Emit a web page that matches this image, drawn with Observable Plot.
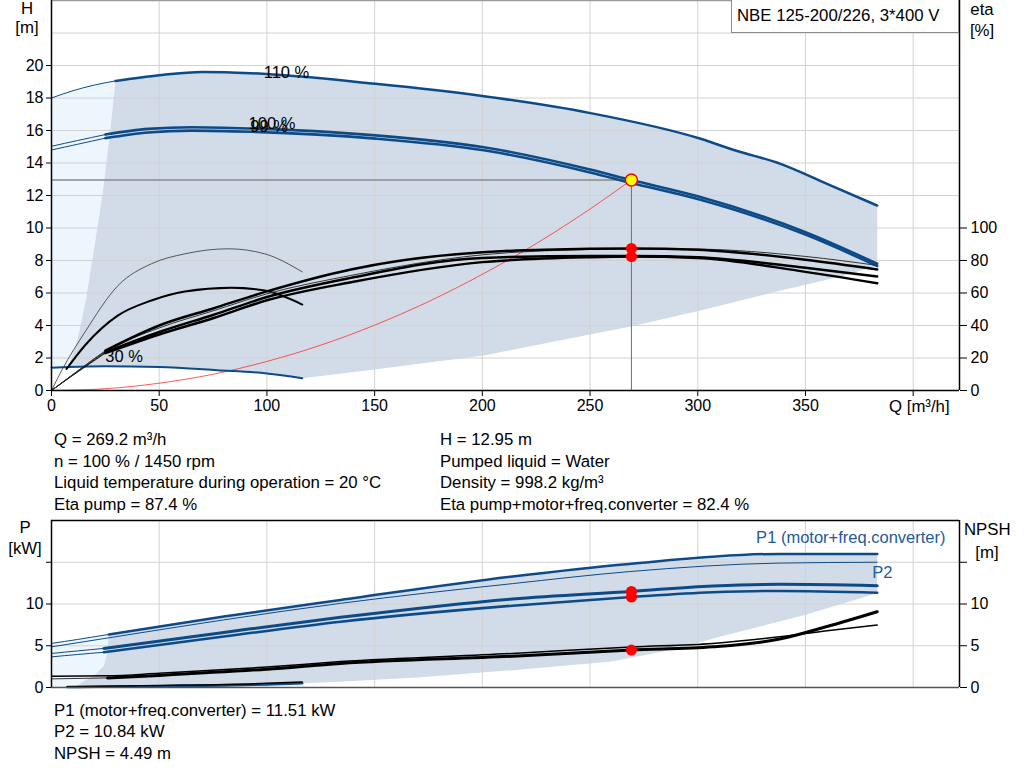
<!DOCTYPE html>
<html><head><meta charset="utf-8">
<script src="https://cdn.jsdelivr.net/npm/d3@7"></script>
<script src="https://cdn.jsdelivr.net/npm/@observablehq/plot@0.6"></script>
<style>
body{margin:0;background:#fff;font-family:"Liberation Sans",Arial,sans-serif;}
#wrap{position:relative;width:1024px;height:781px;overflow:hidden;background:#fff;}
#wrap svg{position:absolute;left:0;}
.t{position:absolute;font-size:16.8px;color:#000;white-space:nowrap;line-height:21.5px;}
.c{text-align:center;line-height:18px;}
</style></head><body><div id="wrap"></div>
<script>
// ---------- tick values ----------
const qTicks = [0, 50, 100, 150, 200, 250, 300, 350, 400];
const hTicks = [0, 2, 4, 6, 8, 10, 12, 14, 16, 18, 20];
const hGrid = [2, 4, 6, 8, 10, 12, 14, 16, 18, 20, 22];
const etaTicks = [0, 20, 40, 60, 80, 100];
const pTicks = [0, 5, 10, 15];

// ---------- top chart: head curves [Q, H] ----------
const h110 = [[0,18.0],[10,18.45],[20,18.8],[29.7,19.05],[50,19.4],[70,19.6],[92.4,19.53],[150.4,18.87],[200.7,18.11],[250.2,17.07],[301.3,15.49],[317.5,14.77],[338.4,13.95],[360,12.72],[383.3,11.38]];
const h100 = [[0,15.03],[12,15.38],[25,15.75],[45,16.1],[65,16.2],[92.4,16.12],[150.4,15.7],[200.7,14.97],[250,13.6],[269.2,12.95],[300,11.95],[350,9.74],[383.3,7.8]];
const h99  = [[0,14.8],[12,15.15],[25,15.53],[45,15.88],[65,15.99],[92.4,15.92],[150.4,15.5],[200.7,14.78],[250,13.42],[269.2,12.77],[300,11.78],[350,9.59],[383.3,7.66]];
const h30  = [[0,1.4],[8,1.45],[25,1.5],[50,1.45],[77,1.25],[100,1.05],[116.4,0.76]];
const system = [[0,0],[25,0.11],[50,0.45],[75,1.0],[100,1.79],[125,2.79],[150,4.02],[175,5.47],[200,7.15],[225,9.04],[250,11.17],[269.2,12.95]];
// operating range boundaries
const leftEdgeTop = [[7.7,1.45],[12,3.1],[16,5.6],[20.1,9.0],[24,12.4],[27,15.7],[29.7,19.05]];
const lowerEdgeTop = [[116.4,0.76],[150,1.3],[200.7,2.15],[231.7,2.97],[268.8,3.94],[301.3,4.92],[340,6.2],[366,7.0],[383.3,7.7]];

// ---------- top chart: efficiency curves [Q, eta %] ----------
const etaA = [[0,0],[10,10],[25,24.5],[50,40],[75,50.5],[100,61],[139,74.5],[200,85.1],[250,87.2],[269.2,87.4],[300,86.6],[350,80.5],[383.3,74.5]];
const etaB = [[0,0],[10,9.8],[25,24],[50,38.5],[75,49],[100,59.5],[139,70.8],[200,83.5],[250,86.8],[269.2,87.2],[300,87],[350,82.5],[383.3,77]];
const etaC = [[0,0],[10,9.6],[25,23.5],[50,36],[75,46.5],[100,57.5],[139,69.3],[200,81.6],[250,82.8],[269.2,82.8],[300,82],[350,75.5],[383.3,70.2]];
const etaD = [[0,0],[10,9.4],[25,23],[50,34.5],[75,44.5],[100,55.5],[139,66.6],[200,79],[250,82],[269.2,82.4],[300,81.5],[350,73],[383.3,66]];
const eta30p = [[0,0],[5,13],[15.5,35.9],[30.9,64.6],[46.4,78],[61.9,84.1],[82,87.2],[99,84.1],[116.4,73]];
const eta30t = [[7,13.3],[15.5,27.7],[30.9,46.2],[46.4,55.4],[61.9,60.9],[83.5,63.2],[99,61.5],[116.4,52.9]];

// ---------- operating point ----------
const opQ = 269.2, opH = 12.95;
const etaDots = [87.4, 82.4];
const powerDots = [11.51, 10.84];
const npshDot = 4.49;

// ---------- bottom chart: power [Q, kW] and NPSH [Q, m] ----------
const p1_110 = [[0,5.28],[12,5.75],[26.6,6.36],[80,8.5],[134.2,10.48],[214,13.3],[268.2,14.8],[337.8,16.0],[383.3,16.0]];
const p2_110 = [[0,4.87],[26.6,5.95],[80,8.1],[134.2,10.08],[214,12.44],[268.2,13.88],[337.8,14.9],[383.3,15.0]];
const p1_100 = [[0,4.08],[12,4.38],[24.3,4.68],[80,6.6],[134.2,8.4],[214,10.6],[269.2,11.51],[307,12.16],[337.8,12.36],[383.3,12.2]];
const p2_100 = [[0,3.67],[12,3.95],[24.3,4.22],[80,6.1],[134.2,7.88],[214,9.8],[269.2,10.84],[307,11.4],[337.8,11.56],[383.3,11.36]];
const p30 = [[7.3,0.05],[12,0.07],[50,0.15],[80,0.25],[100,0.36],[116.4,0.5]];
const npsh100 = [[0,1.03],[26,1.15],[50,1.45],[100,2.2],[134.2,2.88],[214,3.75],[269.2,4.49],[307,4.87],[338,5.8],[360,7.3],[383.3,9.08]];
const npsh110 = [[0,1.36],[26,1.4],[50,1.7],[100,2.45],[134.2,3.1],[214,4.08],[269.2,4.85],[307,5.28],[338,6.07],[360,6.8],[383.3,7.48]];
const npsh30 = [[7.3,0.1],[50,0.25],[100,0.5],[116.4,0.65]];
const leftEdgeBot = [[11,0.05],[13.5,0.48],[16,0.9],[19.6,1.4],[22,2.0],[24.3,2.6],[25.8,4.0],[26.6,6.36]];
const lowerEdgeBot = [[116.4,0.5],[131,0.67],[170,1.2],[214,2.08],[260,3.1],[290,4.6],[310,6.07],[350,8.7],[383.3,11.28]];

// ---------- labels ----------
const curveLabels = [
  {q: 98.5, v: 19.55, label: "110 %"},
  {q: 91.5, v: 16.4, label: "100 %"},
  {q: 92.3, v: 16.22, label: "99 %"},
  {q: 25, v: 2.05, label: "30 %"}
];
const p1Label = [{q: 415, v: 17.9, label: "P1 (motor+freq.converter)"}];
const p2Label = [{q: 381, v: 13.8, label: "P2"}];

// ---------- helpers ----------
const P = a => a.map(([q, v]) => ({q, v}));
const upTo = (a, q0) => a.filter(d => d[0] <= q0);
const from = (a, q0) => a.filter(d => d[0] >= q0);
const rev = a => a.slice().reverse();

const BLUE = "#0d4b88";
const font = '"Liberation Sans", Arial, sans-serif';
const QMAX = 421.5;
const TICKFS = 16;

// polygons
const darkTop = P([...leftEdgeTop, ...from(h110, 29.7).slice(1), ...rev(lowerEdgeTop), ...rev(upTo(h30, 116.4)).filter(d => d[0] >= 7.7)]);
const lightTop = P([[0, h30[0][1]], ...upTo(h110, 29.7), ...rev(leftEdgeTop), ...rev(upTo(h30, 7.7))]);
const darkBot = P([...leftEdgeBot, ...from(p1_110, 26.6).slice(1), ...rev(lowerEdgeBot), ...rev(p30).filter(d => d[0] >= 11)]);
const lightBot = P([[0, 0], ...upTo(p1_110, 26.6), ...rev(leftEdgeBot), [0, 0]]);

const eta = a => P(a.map(([q, e]) => [q, e / 10]));
const op = {q: opQ, h: opH};

const line = (a, o) => Plot.line(a, {x: "q", y: "v", curve: "monotone-x", ...o});

const topPlot = Plot.plot({
  width: 1024, height: 420,
  marginLeft: 51, marginRight: 65, marginTop: 0, marginBottom: 30,
  style: {fontFamily: font, fontSize: "16px", color: "#000", background: "transparent", overflow: "visible"},
  x: {domain: [0, QMAX]},
  y: {domain: [0, 24]},
  marks: [
    Plot.line(lightTop, {x: "q", y: "v", fill: "#eef6fd", stroke: "none"}),
    Plot.line(darkTop, {x: "q", y: "v", fill: "#d1dce8", stroke: "none"}),
    Plot.gridX({ticks: qTicks.slice(1), stroke: "#d2d2d2", strokeOpacity: 1}),
    Plot.gridY({ticks: hGrid, stroke: "#d2d2d2", strokeOpacity: 1}),
    Plot.ruleY([op], {y: "h", x1: 0, x2: "q", stroke: "#8a8a8a", strokeWidth: 1.5}),
    Plot.ruleX([op], {x: "q", y1: 0, y2: "h", stroke: "#6e6e6e", strokeWidth: 1}),
    line(P(system), {stroke: "#ff3030", strokeWidth: 0.8}),
    // head curves
    line(P(upTo(h110, 29.7)), {stroke: BLUE, strokeWidth: 1}),
    line(P(from(h110, 29.7)), {stroke: BLUE, strokeWidth: 2.5}),
    line(P(upTo(h100, 25)), {stroke: BLUE, strokeWidth: 1}),
    line(P(upTo(h99, 25)), {stroke: BLUE, strokeWidth: 1}),
    line(P(from(h100, 25)), {stroke: BLUE, strokeWidth: 2.6}),
    line(P(from(h99, 25)), {stroke: BLUE, strokeWidth: 2.6}),
    line(P(h30), {stroke: BLUE, strokeWidth: 2}),
    // efficiency curves
    line(eta(eta30p), {stroke: "#333", strokeWidth: 0.8}),
    line(eta(eta30t), {stroke: "#000", strokeWidth: 2}),
    line(eta(upTo(etaA, 25)), {stroke: "#000", strokeWidth: 0.8}),
    line(eta(upTo(etaC, 25)), {stroke: "#000", strokeWidth: 0.8}),
    line(eta(upTo(etaD, 25)), {stroke: "#000", strokeWidth: 0.8}),
    line(eta(etaB), {stroke: "#333", strokeWidth: 1}),
    line(eta(from(etaA, 25)), {stroke: "#000", strokeWidth: 2.5}),
    line(eta(from(etaC, 25)), {stroke: "#000", strokeWidth: 2.5}),
    line(eta(from(etaD, 25)), {stroke: "#000", strokeWidth: 2.5}),
    Plot.text(curveLabels, {x: "q", y: "v", text: "label", textAnchor: "start", fill: "#000", fontSize: 16.5}),
    Plot.dot(etaDots, {x: () => opQ, y: d => d / 10, r: 5.5, fill: "red", stroke: "none"}),
    Plot.dot([op], {x: "q", y: "h", r: 6, fill: "#ffff00", stroke: "red", strokeWidth: 1.5}),
    // frame
    Plot.ruleY([24], {stroke: "#9a9a9a", strokeWidth: 1.5}),
    Plot.ruleY([0], {stroke: "#000", strokeWidth: 1.5}),
    Plot.ruleX([0, QMAX], {stroke: "#000", strokeWidth: 1.5}),
    Plot.axisY({ticks: hTicks, tickSize: 5, tickPadding: 3, label: null, fontSize: TICKFS}),
    Plot.axisY({anchor: "right", ticks: etaTicks.map(e => e / 10), tickFormat: d => String(Math.round(d * 10)), tickSize: 7, tickPadding: 4, label: null, fontSize: TICKFS}),
    Plot.axisX({ticks: qTicks, tickFormat: d => d === 400 ? "" : String(d), tickSize: 6, tickPadding: 3, label: null, fontSize: TICKFS})
  ]
});

const botPlot = Plot.plot({
  width: 1024, height: 177,
  marginLeft: 51, marginRight: 65, marginTop: 5, marginBottom: 5,
  style: {fontFamily: font, fontSize: "16px", color: "#000", background: "transparent", overflow: "visible"},
  x: {domain: [0, QMAX], axis: null},
  y: {domain: [0, 20]},
  marks: [
    Plot.line(lightBot, {x: "q", y: "v", fill: "#eef6fd", stroke: "none"}),
    Plot.line(darkBot, {x: "q", y: "v", fill: "#d1dce8", stroke: "none"}),
    Plot.gridX({ticks: qTicks.slice(1), stroke: "#d2d2d2", strokeOpacity: 1}),
    Plot.gridY({ticks: pTicks.slice(1), stroke: "#d2d2d2", strokeOpacity: 1}),
    line(P(upTo(p1_110, 26.6)), {stroke: BLUE, strokeWidth: 1}),
    line(P(from(p1_110, 26.6)), {stroke: BLUE, strokeWidth: 2.5}),
    line(P(p2_110), {stroke: BLUE, strokeWidth: 1}),
    line(P(upTo(p1_100, 24.3)), {stroke: BLUE, strokeWidth: 1}),
    line(P(upTo(p2_100, 24.3)), {stroke: BLUE, strokeWidth: 1}),
    line(P(from(p1_100, 24.3)), {stroke: BLUE, strokeWidth: 3}),
    line(P(from(p2_100, 24.3)), {stroke: BLUE, strokeWidth: 2.5}),
    line(P(p30), {stroke: BLUE, strokeWidth: 2.5}),
    line(P(npsh30), {stroke: "#000", strokeWidth: 1.5}),
    line(P(upTo(npsh100, 26)), {stroke: "#000", strokeWidth: 0.8}),
    line(P(from(npsh100, 26)), {stroke: "#000", strokeWidth: 3}),
    line(P(npsh110), {stroke: "#000", strokeWidth: 1.5}),
    Plot.text(p1Label, {x: "q", y: "v", text: "label", textAnchor: "end", fill: "#1f5a96", fontSize: 16.5}),
    Plot.text(p2Label, {x: "q", y: "v", text: "label", textAnchor: "start", fill: "#1f5a96", fontSize: 16.5}),
    Plot.dot(powerDots, {x: () => opQ, y: d => d, r: 5.5, fill: "red", stroke: "none"}),
    Plot.dot([npshDot], {x: () => opQ, y: d => d, r: 5.5, fill: "red", stroke: "none"}),
    Plot.ruleY([20], {stroke: "#000", strokeWidth: 1.5}),
    Plot.ruleY([0], {stroke: "#555", strokeWidth: 1.5}),
    Plot.ruleX([0, QMAX], {stroke: "#000", strokeWidth: 1.5}),
    Plot.axisY({ticks: pTicks, tickFormat: d => d === 15 ? "" : String(d), tickSize: 5, tickPadding: 3, label: null, fontSize: TICKFS}),
    Plot.axisY({anchor: "right", ticks: pTicks, tickFormat: d => d === 15 ? "" : String(d), tickSize: 7, tickPadding: 4, label: null, fontSize: TICKFS})
  ]
});

const wrap = document.getElementById("wrap");
topPlot.style.top = "0px";
botPlot.style.top = "515px";
wrap.appendChild(topPlot);
wrap.appendChild(botPlot);

function addText(txt, left, top, cls, extra) {
  const d = document.createElement("div");
  d.className = "t" + (cls ? " " + cls : "");
  d.style.left = left + "px";
  d.style.top = top + "px";
  if (extra) Object.assign(d.style, extra);
  d.textContent = txt;
  wrap.appendChild(d);
  return d;
}
// axis titles
addText("H", 10, 0, "c", {width: "34px"});
addText("[m]", 10, 19, "c", {width: "34px"});
addText("eta", 964, 1, "c", {width: "36px"});
addText("[%]", 964, 22, "c", {width: "36px"});
addText("Q [m³/h]", 889, 396);
addText("P", 8, 519, "c", {width: "34px"});
addText("[kW]", 6, 540, "c", {width: "38px"});
addText("NPSH", 964, 521, "c", {width: "46px"});
addText("[m]", 964, 544, "c", {width: "46px"});
// model box
addText("NBE 125-200/226, 3*400 V", 731, 0, "", {height: "33px", lineHeight: "32px", paddingLeft: "5px", border: "1px solid #8c8c8c", borderTop: "none", boxSizing: "border-box", width: "228px", background: "#fff"});
// info blocks
const infoL = ["Q = 269.2 m³/h", "n = 100 % / 1450 rpm", "Liquid temperature during operation = 20 °C", "Eta pump = 87.4 %"];
const infoR = ["H = 12.95 m", "Pumped liquid = Water", "Density = 998.2 kg/m³", "Eta pump+motor+freq.converter = 82.4 %"];
const infoB = ["P1 (motor+freq.converter) = 11.51 kW", "P2 = 10.84 kW", "NPSH = 4.49 m"];
infoL.forEach((s, i) => addText(s, 54, 429 + i * 21.5));
infoR.forEach((s, i) => addText(s, 440, 429 + i * 21.5));
infoB.forEach((s, i) => addText(s, 54, 700 + i * 21.3));
</script>
</body></html>
